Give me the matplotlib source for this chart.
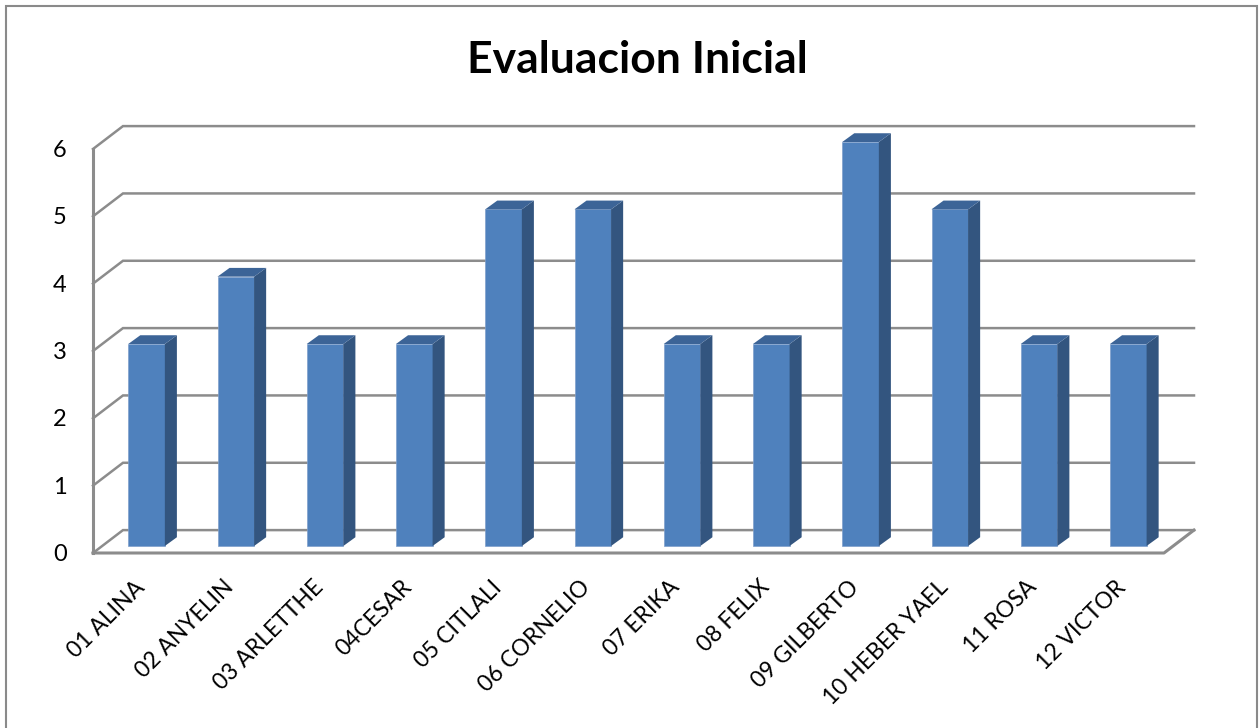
import matplotlib
matplotlib.use("Agg")
import matplotlib.pyplot as plt
from matplotlib.patches import Polygon
from matplotlib.transforms import ScaledTranslation

plt.rcParams["font.family"] = ["Lato", "DejaVu Sans"]

# data
names = ["01 ALINA", "02 ANYELIN", "03 ARLETTHE", "04CESAR", "05 CITLALI", "06 CORNELIO",
         "07 ERIKA", "08 FELIX", "09 GILBERTO", "10 HEBER YAEL", "11 ROSA", "12 VICTOR"]
scores = [3, 4, 3, 3, 5, 5, 3, 3, 6, 5, 3, 3]
y_ticks = [0, 1, 2, 3, 4, 5, 6]

W, H = 1260, 728
GRID = "#8c8c8c"
FRONT = "#4f81bd"
SIDE = "#33557f"
TOP = "#3c6497"

# pseudo 3d offsets, in data units
FLOOR_DX, FLOOR_DY = 0.336, 0.34
BAR_DX, BAR_DY = 0.135, 0.13
BAR_W = 0.41

fig = plt.figure(figsize=(W / 100, H / 100), dpi=100)
fig.patch.set_facecolor("white")

# frame of the chart
fig.add_artist(plt.Rectangle((6 / W, -0.01), 1251 / W, 1 - 6 / H + 0.01, transform=fig.transFigure,
                             fill=False, edgecolor="#8a8a8a", linewidth=1.5))

ax = fig.add_axes([93 / W, 1 - 553 / H, (1164 - 93) / W, (553 - 149) / H])
ax.set_xlim(-0.5, 11.5)
ax.set_ylim(0, 6)
ax.patch.set_visible(False)
for s in ax.spines.values():
    s.set_visible(False)

# back wall lines and the slanted ones going to the front
for v in y_ticks:
    ax.plot([-0.5, -0.5 + FLOOR_DX, 11.5 + FLOOR_DX], [v, v + FLOOR_DY, v + FLOOR_DY],
            color=GRID, lw=1.8, clip_on=False, zorder=1, solid_joinstyle="miter")
ax.plot([-0.5, -0.5], [0, 6], color=GRID, lw=2.2, clip_on=False, zorder=1)
ax.plot([-0.5, 11.5, 11.5 + FLOOR_DX], [0, 0, FLOOR_DY], color=GRID, lw=2.2, clip_on=False, zorder=1)

# bars
for i, v in enumerate(scores):
    x0 = i - BAR_W / 2 + 0.1
    x1 = x0 + BAR_W
    y0 = 0.104
    y1 = y0 + v
    ax.bar(x0, v, width=BAR_W, bottom=y0, align="edge", color=FRONT, edgecolor="#7f9fcb",
           linewidth=0.5, clip_on=False, zorder=3)
    ax.add_patch(Polygon([(x1, y0), (x1 + BAR_DX, y0 + BAR_DY), (x1 + BAR_DX, y1 + BAR_DY), (x1, y1)],
                         facecolor=SIDE, edgecolor="none", clip_on=False, zorder=3))
    ax.add_patch(Polygon([(x0, y1), (x0 + BAR_DX, y1 + BAR_DY), (x1 + BAR_DX, y1 + BAR_DY), (x1, y1)],
                         facecolor=TOP, edgecolor="none", clip_on=False, zorder=3))

ax.set_yticks(y_ticks)
ax.set_yticklabels([str(v) for v in y_ticks], fontsize=17)
ax.set_xticks(range(len(names)))
ax.set_xticklabels(names, fontsize=16.5, rotation=45, ha="right", rotation_mode="anchor")
ax.tick_params(axis="x", length=0, pad=17)
ax.tick_params(axis="y", length=0, pad=19)

# nudge tick labels a few pixels
for lab in ax.get_xticklabels():
    lab.set_transform(lab.get_transform() + ScaledTranslation(-4 / 100, 0, fig.dpi_scale_trans))
for lab in ax.get_yticklabels():
    lab.set_transform(lab.get_transform() + ScaledTranslation(0, 0.5 / 100, fig.dpi_scale_trans))

fig.text(637 / W, 1 - 60 / H, "Evaluacion Inicial", fontsize=32, fontweight="bold",
         ha="center", va="center", color="black")

fig.savefig("out.png", dpi=100)
